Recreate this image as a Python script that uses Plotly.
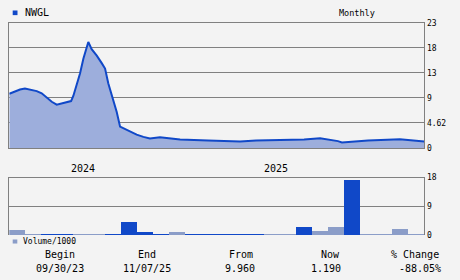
import plotly.graph_objects as go

# ---- data ----
symbol = "NWGL"
# price samples: month offset from 09/30/23, closing value
price_t = [0, 0.25, 0.67, 0.98, 1.40, 1.72, 2.03, 2.34, 2.66, 2.97, 3.28, 3.60, 3.87,
           4.01, 4.22, 4.43, 4.64, 4.81, 4.95, 5.16, 5.48, 5.79, 6.00, 6.20, 6.52,
           6.73, 6.94, 7.36, 7.77, 7.98, 8.40, 8.81, 9.44, 10.19, 10.70, 12.45, 14.46,
           15.46, 18.47, 19.47, 20.09, 20.59, 20.84, 21.47, 22.47, 24.47, 25.22, 25.72, 26.0]
price_v = [9.96, 10.27, 10.75, 10.93, 10.63, 10.45, 10.04, 9.26, 8.49, 7.96, 8.19, 8.37, 8.62,
           9.56, 11.64, 13.70, 16.40, 18.20, 19.48, 18.16, 16.98, 15.60, 14.60, 11.90, 8.67,
           6.60, 3.92, 3.33, 2.74, 2.44, 2.03, 1.73, 1.96, 1.73, 1.55, 1.37, 1.19,
           1.37, 1.55, 1.78, 1.55, 1.25, 1.01, 1.19, 1.37, 1.60, 1.37, 1.19, 1.19]

# monthly volume / 1000 (Oct 2023 .. Nov 2025)
vol_month = list(range(26))
vol_v = [1.7, 0.3, 0.3, 0.5, 0.5, 0.3, 0.3, 4.2, 1.1, 0.3, 1.1, 0.3, 0.3, 0.3, 0.3, 0.3,
         0.3, 0.3, 2.6, 1.4, 2.6, 17.3, 0.5, 0.2, 2.0, 0.3]
vol_dark = [0, 0, 1, 1, 0, 0, 1, 1, 1, 1, 0, 1, 1, 1, 1, 1,
            0, 0, 1, 0, 0, 1, 0, 0, 0, 0]

price_tickvals = [0, 4.6, 9.2, 13.8, 18.4, 23]
price_ticktext = ["0", "4.62", "9", "13", "18", "23"]
vol_tickvals = [0, 9, 18]
vol_ticktext = ["0", "9", "18"]

year_labels = ["2024", "2025"]
year_pos = [4.62, 16.7]

summary_heads = ["Begin", "End", "From", "Now", "% Change"]
summary_vals = ["09/30/23", "11/07/25", "9.960", "1.190", "-88.05%"]

# ---- styles ----
DARK = "#1048C8"
LIGHT = "#8B9DC8"
FILL = "#9DAEDC"
BG = "#F3F3F3"
GRID = "#808080"
FONT = "DejaVu Sans Mono"
W, H = 460, 280

fig = go.Figure()
fig.add_trace(go.Scatter(x=price_t, y=price_v, mode="lines",
                         line=dict(color=DARK, width=2), fill="tozeroy",
                         fillcolor=FILL, xaxis="x", yaxis="y", hoverinfo="skip"))
fig.add_trace(go.Bar(x=[m + 0.5 for m in vol_month], y=vol_v, width=1,
                     marker=dict(color=[DARK if d else LIGHT for d in vol_dark], line=dict(width=0)),
                     xaxis="x2", yaxis="y2", hoverinfo="skip"))

def px(x):
    return x / W

def py(y):
    return 1 - y / H

xd = [px(9.3), px(424.3)]
fig.update_layout(
    width=W, height=H, margin=dict(l=0, r=0, t=0, b=0),
    paper_bgcolor=BG, plot_bgcolor=BG, showlegend=False, bargap=0,
    font=dict(family=FONT, size=8, color="#000000"),
    xaxis=dict(domain=xd, range=[0, 26], showgrid=False, zeroline=False,
               showticklabels=False, showline=True, mirror=True, linecolor=GRID, linewidth=1,
               anchor="y"),
    yaxis=dict(domain=[py(148.7), py(19.5)], range=[0, 23], side="right",
               tickvals=price_tickvals, ticktext=price_ticktext, showgrid=True,
               gridcolor=GRID, gridwidth=1, zeroline=False, showline=True, mirror=True,
               linecolor=GRID, linewidth=1, tickfont=dict(family=FONT, size=8), anchor="x"),
    xaxis2=dict(domain=xd, range=[0, 26], showgrid=False, zeroline=False,
                showticklabels=False, showline=True, side="top", linecolor=GRID,
                linewidth=1, anchor="y2"),
    yaxis2=dict(domain=[py(238.7), py(179.3)], range=[0, 18], side="right",
                tickvals=vol_tickvals, ticktext=vol_ticktext, showgrid=True,
                gridcolor=GRID, gridwidth=1, zeroline=False, showline=True, mirror=True,
                linecolor=GRID, linewidth=1, tickfont=dict(family=FONT, size=8), anchor="x2"),
)

shapes = [
    dict(type="rect", xref="paper", yref="paper", x0=px(12.7), x1=px(17.5),
         y0=py(11.5), y1=py(6.7), fillcolor=DARK, line=dict(width=0)),
    dict(type="rect", xref="paper", yref="paper", x0=px(12.7), x1=px(17.3),
         y0=py(247.5), y1=py(243.3), fillcolor=LIGHT, line=dict(width=0)),
]
fig.update_layout(shapes=shapes)

ann = []
ann.append(dict(text=symbol, x=px(22.5), y=py(9), xanchor="left", yanchor="middle",
                font=dict(size=10)))
ann.append(dict(text="Monthly", x=px(357), y=py(9), xanchor="center", yanchor="middle",
                font=dict(size=8.5)))
ann.append(dict(text="Volume/1000", x=px(20.5), y=py(245.5), xanchor="left", yanchor="middle",
                font=dict(size=8)))
for lab, pos in zip(year_labels, year_pos):
    ann.append(dict(text=lab, x=pos, xref="x", y=py(170), yref="paper", xanchor="center",
                    yanchor="middle", showarrow=False, font=dict(family=FONT, size=10)))
head_x = [60.5, 146.5, 241, 330.5, 414.5]
val_x = [59.5, 147.3, 239.5, 326.3, 420.2]
for h, v, hx, vx in zip(summary_heads, summary_vals, head_x, val_x):
    ann.append(dict(text=h, x=px(hx), y=py(259.3), xanchor="center", yanchor="middle",
                    font=dict(size=10)))
    ann.append(dict(text=v, x=px(vx), y=py(273.3), xanchor="center", yanchor="middle",
                    font=dict(size=10)))
for a in ann:
    a.setdefault("xref", "paper")
    a.setdefault("yref", "paper")
    a["showarrow"] = False
    a["font"] = dict(family=FONT, color="#000000", size=a["font"]["size"])
fig.update_layout(annotations=ann)

fig.write_html("out.html")
